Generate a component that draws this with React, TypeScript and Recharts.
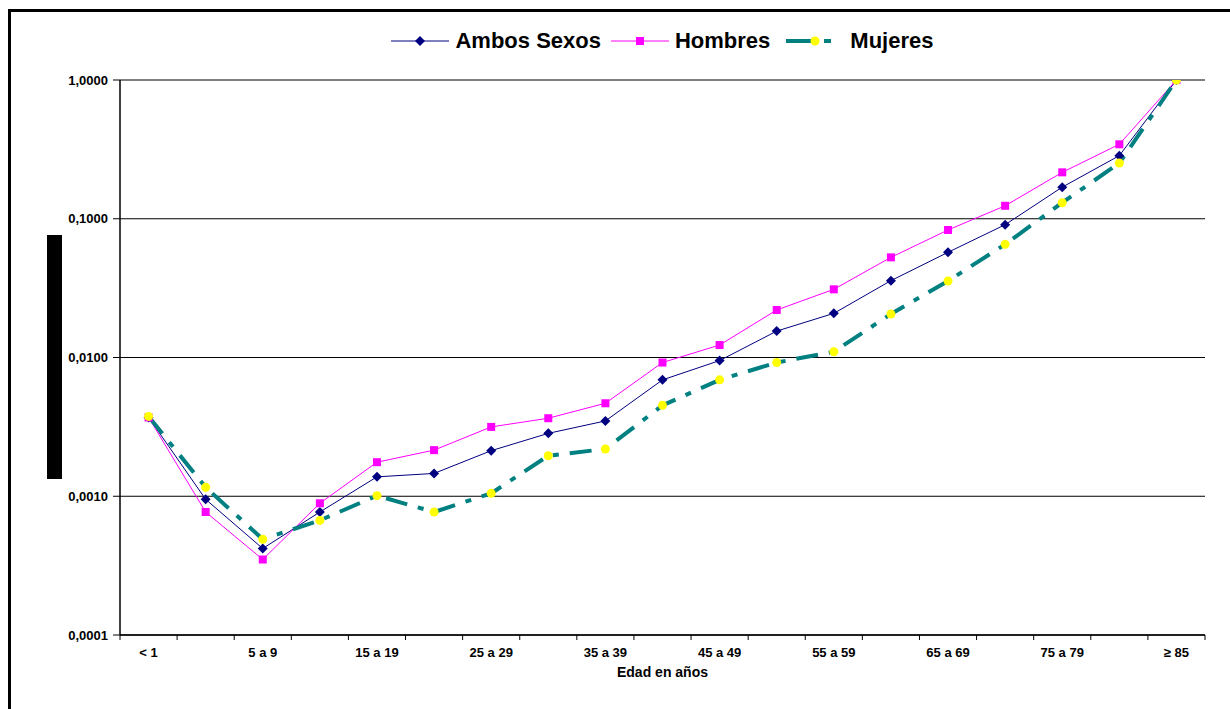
import { LineChart, Line, XAxis, YAxis, CartesianGrid, Legend } from "recharts"

const ageGroups = [
  "< 1", "1 a 4", "5 a 9", "10 a 14", "15 a 19", "20 a 24", "25 a 29", "30 a 34", "35 a 39", "40 a 44",
  "45 a 49", "50 a 54", "55 a 59", "60 a 64", "65 a 69", "70 a 74", "75 a 79", "80 a 84", "≥ 85",
]
const ambosSexos = [
  0.0037, 0.00095, 0.00042, 0.00077, 0.00138, 0.00146, 0.00213, 0.00284, 0.00349, 0.0069,
  0.0095, 0.0155, 0.0208, 0.0358, 0.0573, 0.0906, 0.169, 0.285, 1,
]
const hombres = [
  0.0037, 0.00077, 0.00035, 0.00089, 0.00176, 0.00215, 0.00316, 0.00365, 0.00468, 0.0092,
  0.0123, 0.022, 0.031, 0.0527, 0.083, 0.124, 0.216, 0.344, 1,
]
const mujeres = [
  0.00376, 0.00116, 0.00049, 0.00067, 0.00101, 0.00077, 0.00105, 0.00196, 0.00219, 0.00452,
  0.0069, 0.0092, 0.011, 0.0206, 0.0356, 0.0654, 0.1305, 0.252, 1,
]
const yTicks = [0.0001, 0.001, 0.01, 0.1, 1]

const data = ageGroups.map((edad, i) => ({
  edad,
  ambos: ambosSexos[i],
  hombres: hombres[i],
  mujeres: mujeres[i],
}))

const FONT = "'Liberation Sans', Arial, sans-serif"
const PLOT_LEFT = 120
const PLOT_RIGHT = 1205
const STEP = (PLOT_RIGHT - PLOT_LEFT) / ageGroups.length

const NAVY = "#000080"
const MAGENTA = "#ff00ff"
const TEAL = "#008080"
const YELLOW = "#ffff00"

const diamondDot = (props: any) => {
  const { cx, cy, index } = props
  const r = 5
  return (
    <polygon
      key={`a${index}`}
      points={`${cx},${cy - r} ${cx + r},${cy} ${cx},${cy + r} ${cx - r},${cy}`}
      fill={NAVY}
    />
  )
}

const squareDot = (props: any) => {
  const { cx, cy, index } = props
  return <rect key={`h${index}`} x={cx - 4} y={cy - 4} width={8} height={8} fill={MAGENTA} />
}

const circleDot = (props: any) => {
  const { cx, cy, index } = props
  return <circle key={`m${index}`} cx={cx} cy={cy} r={4.5} fill={YELLOW} />
}

function AgeTick(props: any) {
  const { x, y, payload, index } = props
  return (
    <g>
      {index === 0 && <line x1={x - STEP / 2} x2={x - STEP / 2} y1={y} y2={y + 5} stroke="#000" />}
      <line x1={x + STEP / 2} x2={x + STEP / 2} y1={y} y2={y + 5} stroke="#000" />
      {index % 2 === 0 && (
        <text x={x} y={y + 22} textAnchor="middle" fontFamily={FONT} fontWeight="bold" fontSize={13} fill="#000">
          {payload.value}
        </text>
      )}
    </g>
  )
}

function LegendIcon({ kind }: { kind: string }) {
  if (kind === "ambos") {
    return (
      <svg width={58} height={20}>
        <line x1={0} x2={58} y1={10} y2={10} stroke={NAVY} strokeWidth={1} />
        <polygon points="29,5 34,10 29,15 24,10" fill={NAVY} />
      </svg>
    )
  }
  if (kind === "hombres") {
    return (
      <svg width={58} height={20}>
        <line x1={0} x2={58} y1={10} y2={10} stroke={MAGENTA} strokeWidth={1} />
        <rect x={25} y={6} width={8} height={8} fill={MAGENTA} />
      </svg>
    )
  }
  return (
    <svg width={58} height={20}>
      <line x1={6} x2={32} y1={10} y2={10} stroke={TEAL} strokeWidth={4} />
      <line x1={44} x2={51} y1={10} y2={10} stroke={TEAL} strokeWidth={4} />
      <circle cx={35} cy={10} r={4.5} fill={YELLOW} />
    </svg>
  )
}

const legendLabels: Record<string, string> = {
  ambos: "Ambos Sexos",
  hombres: "Hombres",
  mujeres: "Mujeres",
}

function renderLegend() {
  return (
    <div style={{ display: "flex", justifyContent: "center", alignItems: "center" }}>
      {Object.keys(legendLabels).map((k, i) => (
        <div key={k} style={{ display: "flex", alignItems: "center", marginLeft: i === 0 ? 0 : 10 }}>
          <LegendIcon kind={k} />
          <span
            style={{
              marginLeft: k === "mujeres" ? 12 : 6,
              fontFamily: FONT,
              fontWeight: "bold",
              fontSize: 22,
              lineHeight: "26px",
              color: "#000",
            }}
          >
            {legendLabels[k]}
          </span>
        </div>
      ))}
    </div>
  )
}

export default function App() {
  return (
    <div style={{ position: "fixed", left: 0, top: 0, width: 1230, height: 709, background: "#fff" }}>
      <div
        style={{
          position: "absolute",
          left: 8,
          top: 9,
          width: 1222,
          height: 700,
          boxSizing: "border-box",
          borderTop: "3px solid #000",
          borderLeft: "3px solid #000",
          pointerEvents: "none",
        }}
      />
      <div
        style={{ position: "absolute", left: 47, top: 235, width: 15, height: 244, background: "#000" }}
      />
      <LineChart width={1230} height={709} data={data} margin={{ top: 80, right: 25, bottom: 14, left: 20 }}>
        <CartesianGrid yAxisId="left" vertical={false} stroke="#000" strokeWidth={1} />
        <XAxis
          dataKey="edad"
          interval={0}
          height={60}
          padding={{ left: STEP / 2, right: STEP / 2 }}
          tickSize={0}
          tickMargin={0}
          tickLine={false}
          axisLine={{ stroke: "#000", strokeWidth: 1.5 }}
          tick={<AgeTick />}
          label={{
            value: "Edad en años",
            position: "insideBottom",
            offset: 18,
            style: { fontFamily: FONT, fontWeight: "bold", fontSize: 14, fill: "#000" },
          }}
        />
        <YAxis
          yAxisId="left"
          type="number"
          scale="log"
          domain={[0.0001, 1]}
          ticks={yTicks}
          allowDataOverflow
          width={100}
          tickSize={7}
          tickMargin={5}
          tickLine={{ stroke: "#000" }}
          axisLine={{ stroke: "#000", strokeWidth: 1.5 }}
          tickFormatter={(v: number) => v.toFixed(4).replace(".", ",")}
          tick={{ fontFamily: FONT, fontWeight: "bold", fontSize: 13, fill: "#000" }}
        />
        <YAxis
          yAxisId="right"
          orientation="right"
          type="number"
          scale="log"
          domain={[0.0001, 1]}
          ticks={yTicks}
          width={0}
          tick={false}
          tickLine={false}
          axisLine={{ stroke: "#000", strokeWidth: 1.5 }}
        />
        <Legend
          layout="horizontal"
          verticalAlign="middle"
          content={renderLegend}
          wrapperStyle={{ left: PLOT_LEFT, top: 28, width: PLOT_RIGHT - PLOT_LEFT, height: 26 }}
        />
        <Line
          yAxisId="left"
          type="linear"
          dataKey="ambos"
          name="Ambos Sexos"
          stroke={NAVY}
          strokeWidth={1}
          dot={diamondDot}
          activeDot={false}
          isAnimationActive={false}
        />
        <Line
          yAxisId="left"
          type="linear"
          dataKey="hombres"
          name="Hombres"
          stroke={MAGENTA}
          strokeWidth={1}
          dot={squareDot}
          activeDot={false}
          isAnimationActive={false}
        />
        <Line
          yAxisId="left"
          type="linear"
          dataKey="mujeres"
          name="Mujeres"
          stroke={TEAL}
          strokeWidth={4}
          strokeDasharray="22 11 6 11"
          dot={circleDot}
          activeDot={false}
          isAnimationActive={false}
        />
      </LineChart>
    </div>
  )
}
